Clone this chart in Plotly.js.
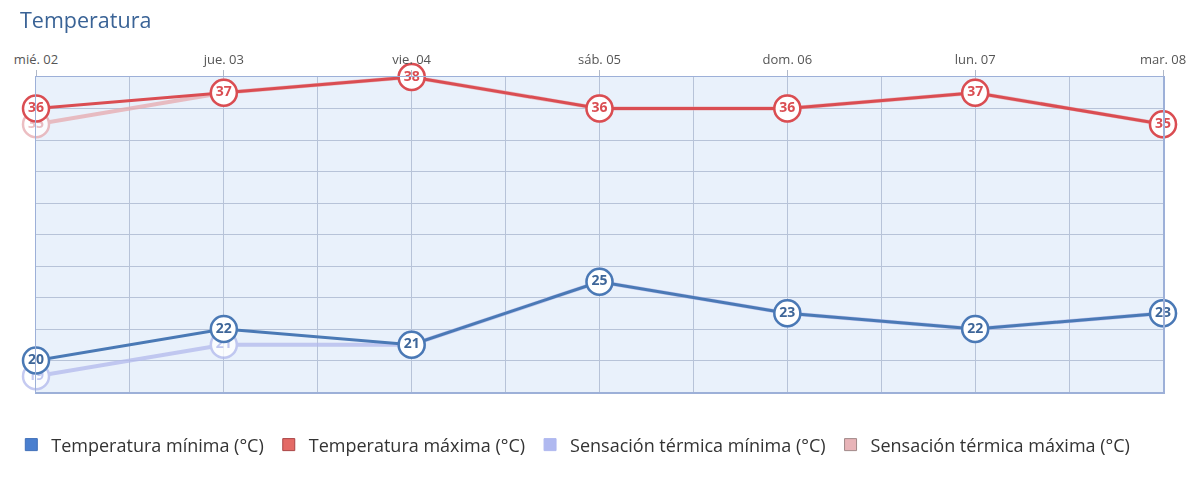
<!DOCTYPE html>
<html><head><meta charset="utf-8">
<script src="https://cdn.plot.ly/plotly-3.0.1.min.js"></script>
<style>html,body{margin:0;padding:0;background:#fff}#chart{width:1200px;height:480px}</style>
</head><body><div id="chart"></div>
<script>
const days = ["mié. 02","jue. 03","vie. 04","sáb. 05","dom. 06","lun. 07","mar. 08"];
const tempMin = [20,22,21,25,23,22,23];
const tempMax = [36,37,38,36,36,37,35];
const sensMin = [19,21,21,25,23,22,23];
const sensMax = [35,37,38,36,36,37,35];
const names = ["Temperatura mínima (°C)","Temperatura máxima (°C)","Sensación térmica mínima (°C)","Sensación térmica máxima (°C)"];

const xs = days.map((d,i)=>i);
const FONT = "'Open Sans', sans-serif";

function line(y, color, textColor, width, opacity){
  return {
    type:'scatter', mode:'lines+markers+text', x: xs, y: y,
    text: y.map(String), textposition:'middle center',
    textfont:{family:FONT, size:14, color:textColor, weight:'bold'},
    line:{color:color, width:width},
    marker:{size:26, color:'#ffffff', line:{color:color, width:2.5}},
    opacity: opacity, showlegend:false, hoverinfo:'skip', cliponaxis:false
  };
}
function legendItem(name, color, border){
  return {type:'bar', x:[xs[0]], y:[null], name:name, marker:{color:color, line:{color:border, width:1}}, showlegend:true, hoverinfo:'skip'};
}

const data = [
  line(sensMax, '#e6a9ae', '#e6a9ae', 4, 0.75),
  line(sensMin, '#b2b9ec', '#b2b9ec', 4, 0.75),
  line(tempMin, '#4a79b5', '#3e6699', 3, 1),
  line(tempMax, '#da4d52', '#da4d52', 3, 1),
  legendItem(names[0], '#4a7fcf', '#3f6fb8'),
  legendItem(names[1], '#e46a66', '#a94444'),
  legendItem(names[2], '#b0b9f0', '#b0b9f0'),
  legendItem(names[3], '#e8b4b8', '#a08888')
];

const layout = {
  width:1200, height:480,
  margin:{l:35, r:37, t:77, b:88},
  paper_bgcolor:'#ffffff', plot_bgcolor:'#e9f1fb',
  title:{text:'Temperatura', x:20/1200, xanchor:'left', y:1-20/480, yanchor:'middle',
         font:{family:FONT, size:21.5, color:'#3a6396'}},
  xaxis:{type:'linear', side:'top', range:[0,6], tickvals:xs, ticktext:days, automargin:false,
         showgrid:true, gridcolor:'#b7c3d8', gridwidth:1,
         minor:{dtick:0.5, tick0:0, showgrid:true, gridcolor:'#b7c3d8', gridwidth:1, ticks:''},
         ticks:'outside', ticklen:6, tickcolor:'#b0b8c8',
         tickfont:{family:FONT, size:13, color:'#555'},
         showline:true, linecolor:'#9db0d8', linewidth:1.5, mirror:true, zeroline:false, fixedrange:true},
  yaxis:{range:[18,38], dtick:2, showticklabels:false, showgrid:true, gridcolor:'#b7c3d8', automargin:false,
         showline:true, linecolor:'#9db0d8', linewidth:1.5, mirror:true, zeroline:false, ticks:'', fixedrange:true},
  showlegend:true,
  legend:{orientation:'h', x:-0.021, xanchor:'left', y:-0.168, yanchor:'middle',
          font:{family:FONT, size:18, color:'#333'}, itemwidth:30, traceorder:'normal'},
  hovermode:false
};
Plotly.newPlot('chart', data, layout, {displayModeBar:false, staticPlot:true});
</script></body></html>
